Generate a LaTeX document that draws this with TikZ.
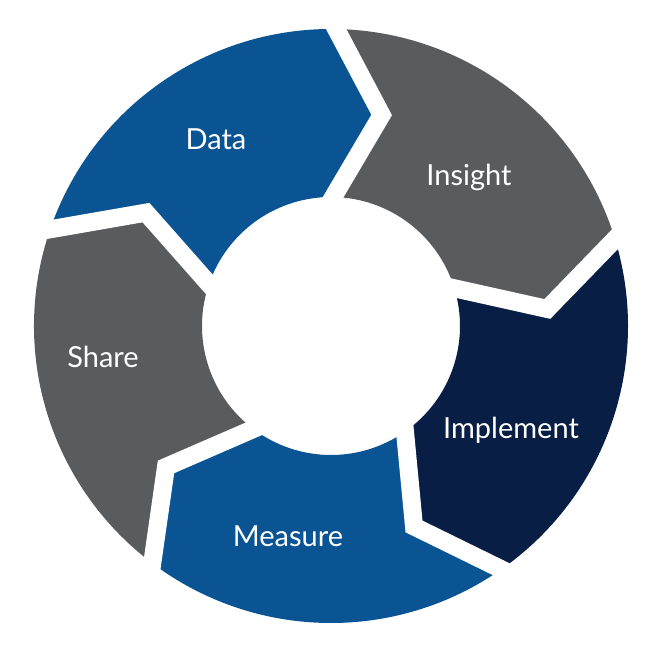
\documentclass[tikz,border=0pt]{standalone}
\usepackage{fontspec}
\setmainfont{Lato}
\usetikzlibrary{calc}
\definecolor{cycleblue}{HTML}{0A5494}
\definecolor{cyclegray}{HTML}{5A5B5D}
\definecolor{cyclenavy}{HTML}{081E44}

\begin{document}
\begin{tikzpicture}[
  x=1pt, y=1pt,
  gap/.style={draw=white, line width=18pt, line join=miter},
  stage/.style={text=white, font=\fontsize{29}{32}\selectfont}
]
  \useasboundingbox (-331,-321) rectangle (336,326);

  % outer, tip and inner point of every boundary
  \coordinate (o1) at (89:297);   \coordinate (t1) at (76.5:217);  \coordinate (i1) at (89:129);
  \coordinate (o2) at (17:297);   \coordinate (t2) at (4.5:217);   \coordinate (i2) at (17:129);
  \coordinate (o3) at (-55:297);  \coordinate (t3) at (-67.5:217); \coordinate (i3) at (-55:129);
  \coordinate (o4) at (-127:297); \coordinate (t4) at (-139.5:217);\coordinate (i4) at (-127:129);
  \coordinate (o5) at (161:297);  \coordinate (t5) at (148.5:217); \coordinate (i5) at (161:129);

  % segments
  \fill[cycleblue] (o5) arc[start angle=161, end angle=89, radius=297] -- (t1) -- (i1)
    arc[start angle=89, end angle=161, radius=129] -- (t5) -- cycle;
  \fill[cyclegray] (o1) arc[start angle=89, end angle=17, radius=297] -- (t2) -- (i2)
    arc[start angle=17, end angle=89, radius=129] -- (t1) -- cycle;
  \fill[cyclenavy] (o2) arc[start angle=17, end angle=-55, radius=297] -- (t3) -- (i3)
    arc[start angle=-55, end angle=17, radius=129] -- (t2) -- cycle;
  \fill[cycleblue] (o3) arc[start angle=-55, end angle=-127, radius=297] -- (t4) -- (i4)
    arc[start angle=-127, end angle=-55, radius=129] -- (t3) -- cycle;
  \fill[cyclegray] (o4) arc[start angle=-127, end angle=-199, radius=297] -- (t5) -- (i5)
    arc[start angle=-199, end angle=-127, radius=129] -- (t4) -- cycle;

  % white gaps
  \draw[gap] ($(t1)!1.3!(o1)$) -- (t1) -- ($(t1)!1.3!(i1)$);
  \draw[gap] ($(t2)!1.3!(o2)$) -- (t2) -- ($(t2)!1.3!(i2)$);
  \draw[gap] ($(t3)!1.3!(o3)$) -- (t3) -- ($(t3)!1.3!(i3)$);
  \draw[gap] ($(t4)!1.3!(o4)$) -- (t4) -- ($(t4)!1.3!(i4)$);
  \draw[gap] ($(t5)!1.3!(o5)$) -- (t5) -- ($(t5)!1.3!(i5)$);

  % labels
  \node[stage] (data) at (-115,187) {Data};
  \node[stage] (insight) at (138,149) {Insight};
  \node[stage] (implement) at (180,-104) {Implement};
  \node[stage] (measure) at (-43,-210) {Measure};
  \node[stage] (share) at (-228,-31) {Share};
\end{tikzpicture}
\end{document}
